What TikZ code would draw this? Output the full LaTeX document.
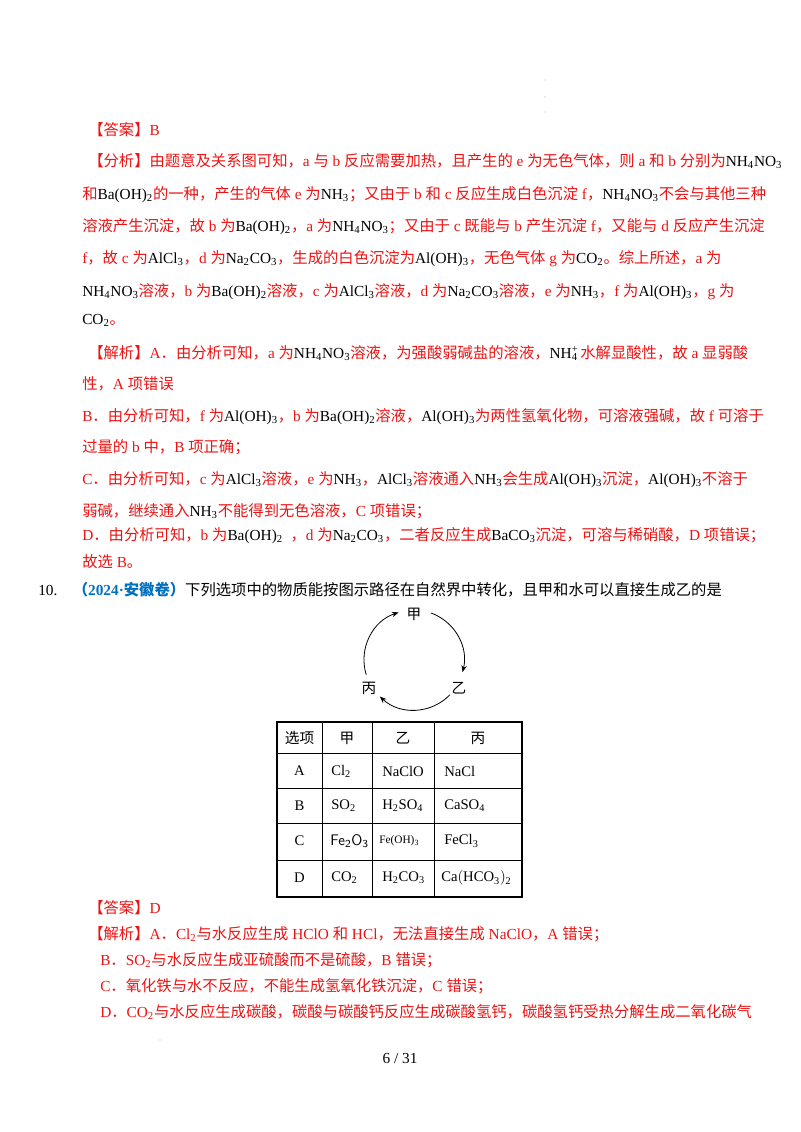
\documentclass[tikz,border=0pt]{standalone}
\usepackage{fontspec}
\setmainfont{Liberation Serif}
\newfontfamily\cjkf{Noto Sans CJK SC}
\newcommand\latf{\rmfamily}
\newXeTeXintercharclass\cjkcls
\count255="3000 \loop \XeTeXcharclass\count255=\cjkcls \ifnum\count255<"303F \advance\count255 1 \repeat
\count255="4E00 \loop \XeTeXcharclass\count255=\cjkcls \ifnum\count255<"9FFF \advance\count255 1 \repeat
\count255="FF00 \loop \XeTeXcharclass\count255=\cjkcls \ifnum\count255<"FFEF \advance\count255 1 \repeat
\XeTeXinterchartoks 0 \cjkcls = {\cjkf}
\XeTeXinterchartoks 4095 \cjkcls = {\cjkf}
\XeTeXinterchartoks \cjkcls 0 = {\latf}
\XeTeXinterchartoks \cjkcls 4095 = {\latf}
\XeTeXinterchartokenstate=1
\usetikzlibrary{arrows.meta}
\definecolor{ansred}{RGB}{235,20,20}
\definecolor{srcblue}{RGB}{0,112,192}
\newcommand\dn[1]{\textsubscript{#1}}
\newcommand\fa[1]{{\latf\color{black}#1}}
\begin{document}
\begin{tikzpicture}[x=0.75pt,y=-0.75pt,
  txt/.style={anchor=base west,inner sep=0,font=\fontsize{11.5}{14}\selectfont,text=ansred},
  blk/.style={txt,text=black},
  cell/.style={inner sep=0,font=\fontsize{11}{13}\selectfont},
  cyc/.style={-{Stealth[length=5pt,width=4pt]},line width=0.6pt}]
\useasboundingbox[fill=white] (0,0) rectangle (800,1132);
\foreach \yy in {80,97,112} \fill[gray!60] (545,\yy) circle (0.6);
\node[txt] (l1) at (88,135) {【答案】B};
\node[txt] (l2) at (88,166) {【分析】由题意及关系图可知，a 与 b 反应需要加热，且产生的 e 为无色气体，则 a 和 b 分别为\fa{NH\dn4NO\dn3}};
\node[txt] (l3) at (82,199) {和\fa{Ba(OH)\dn2}的一种，产生的气体 e 为\fa{NH\dn3}；又由于 b 和 c 反应生成白色沉淀 f，\fa{NH\dn4NO\dn3}不会与其他三种};
\node[txt] (l4) at (82,231) {溶液产生沉淀，故 b 为\fa{Ba(OH)\dn2}，a 为\fa{NH\dn4NO\dn3}；又由于 c 既能与 b 产生沉淀 f，又能与 d 反应产生沉淀};
\node[txt] (l5) at (82,263) {f，故 c 为\fa{AlCl\dn3}，d 为\fa{Na\dn2CO\dn3}，生成的白色沉淀为\fa{Al(OH)\dn3}，无色气体 g 为\fa{CO\dn2}。综上所述，a 为};
\node[txt] (l6) at (82,296) {\fa{NH\dn4NO\dn3}溶液，b 为\fa{Ba(OH)\dn2}溶液，c 为\fa{AlCl\dn3}溶液，d 为\fa{Na\dn2CO\dn3}溶液，e 为\fa{NH\dn3}，f 为\fa{Al(OH)\dn3}，g 为};
\node[txt] (l7) at (82,324) {\fa{CO\dn2}。};
\node[txt] (l8) at (88,358) {【解析】A．由分析可知，a 为\fa{NH\dn4NO\dn3}溶液，为强酸弱碱盐的溶液，\fa{NH\rlap{\textsuperscript{+}}\dn4}\,水解显酸性，故 a 显弱酸};
\node[txt] (l9) at (82,389) {性，A 项错误};
\node[txt] (l10) at (82,421) {B．由分析可知，f 为\fa{Al(OH)\dn3}，b 为\fa{Ba(OH)\dn2}溶液，\fa{Al(OH)\dn3}为两性氢氧化物，可溶液强碱，故 f 可溶于};
\node[txt] (l11) at (82,452) {过量的 b 中，B 项正确；};
\node[txt] (l12) at (82,484) {C．由分析可知，c 为\fa{AlCl\dn3}溶液，e 为\fa{NH\dn3}，\fa{AlCl\dn3}溶液通入\fa{NH\dn3}会生成\fa{Al(OH)\dn3}沉淀，\fa{Al(OH)\dn3}不溶于};
\node[txt] (l13) at (82,516) {弱碱，继续通入\fa{NH\dn3}不能得到无色溶液，C 项错误；};
\node[txt] (l14) at (82,540) {D．由分析可知，b 为\fa{Ba(OH)\dn2}\ \ ，d 为\fa{Na\dn2CO\dn3}，二者反应生成\fa{BaCO\dn3}沉淀，可溶与稀硝酸，D 项错误；};
\node[txt] (l15) at (82,567) {故选 B。};
\node[blk] (q10) at (38,595) {10.\ \ \ \ {\color{srcblue}\bfseries （2024·安徽卷）}下列选项中的物质能按图示路径在自然界中转化，且甲和水可以直接生成乙的是};
% cycle
\coordinate (c) at (414,660);
\node[cell] (jia) at (414,614) {甲};
\node[cell] (yi) at (459,688) {乙};
\node[cell] (bing) at (369,688) {丙};
\draw[cyc] (c) +(-70:50) arc[start angle=-70,end angle=14,radius=50];
\draw[cyc] (c) +(44:50) arc[start angle=44,end angle=133,radius=50];
\draw[cyc] (c) +(163:50) arc[start angle=163,end angle=252,radius=50];
% table
\draw[line width=0.9pt] (277,722) rectangle (522,897);
\foreach \xx in {322,372,434} \draw[line width=0.6pt] (\xx,722) -- (\xx,897);
\foreach \yy in {753,788,823,860} \draw[line width=0.6pt] (277,\yy) -- (522,\yy);
\node[cell] (h1) at (299.5,738) {选项};
\node[cell] (h2) at (347,738) {甲};
\node[cell] (h3) at (403,738) {乙};
\node[cell] (h4) at (478,738) {丙};
\node[cell] (ra) at (299.5,771) {A};
\node[cell] (rb) at (299.5,806) {B};
\node[cell] (rc) at (299.5,841) {C};
\node[cell] (rd) at (299.5,878) {D};
\node[cell,anchor=west] (a1) at (331,771) {Cl\dn2};
\node[cell,anchor=west] (a2) at (382,771) {NaClO};
\node[cell,anchor=west] (a3) at (444,771) {NaCl};
\node[cell,anchor=west] (b1) at (331,806) {SO\dn2};
\node[cell,anchor=west] (b2) at (382,806) {H\dn2SO\dn4};
\node[cell,anchor=west] (b3) at (444,806) {CaSO\dn4};
\node[cell,anchor=west,font=\fontsize{11.5}{13}\sffamily] (c1) at (330,841) {Fe\dn2O\dn3};
\node[cell,anchor=west,font=\fontsize{8.5}{10}\selectfont] (c2) at (379,841) {Fe(OH)\dn3};
\node[cell,anchor=west] (c3) at (444,841) {FeCl\dn3};
\node[cell,anchor=west] (d1) at (331,878) {CO\dn2};
\node[cell,anchor=west] (d2) at (382,878) {H\dn2CO\dn3};
\node[cell,anchor=west] (d3) at (441,878) {Ca$\big($HCO\dn3$\big)$\dn2};
% answer
\node[txt] (m1) at (88,913) {【答案】D};
\node[txt] (m2) at (88,939) {【解析】A．Cl\dn2与水反应生成 HClO 和 HCl，无法直接生成 NaClO，A 错误；};
\node[txt] (m3) at (100,965) {B．SO\dn2与水反应生成亚硫酸而不是硫酸，B 错误；};
\node[txt] (m4) at (100,991) {C．氧化铁与水不反应，不能生成氢氧化铁沉淀，C 错误；};
\node[txt] (m5) at (100,1017) {D．CO\dn2与水反应生成碳酸，碳酸与碳酸钙反应生成碳酸氢钙，碳酸氢钙受热分解生成二氧化碳气};
\fill[gray!60] (160,1040) circle (0.6);
\node[cell,font=\fontsize{11.5}{13}\selectfont] (pg) at (400,1058) {6 / 31};
\end{tikzpicture}
\end{document}
